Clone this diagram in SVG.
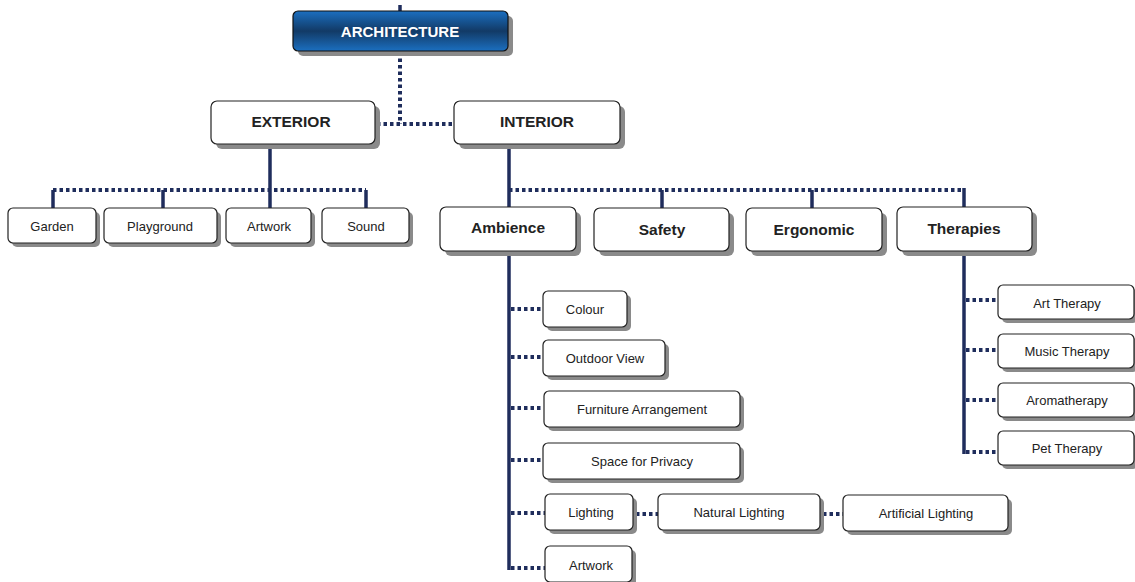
<svg xmlns="http://www.w3.org/2000/svg" width="1135" height="582" viewBox="0 0 1135 582">
<defs>
<linearGradient id="blue" x1="0" y1="0" x2="0" y2="1">
<stop offset="0" stop-color="#1b6fc0"/>
<stop offset="0.5" stop-color="#123a66"/>
<stop offset="1" stop-color="#1b6fc0"/>
</linearGradient>
</defs>
<style>
.sh{fill:#8a8a8a}
.bx{fill:#fff;stroke:#222;stroke-width:1.2}
.t{font-family:"Liberation Sans",Arial,sans-serif;font-size:13px;fill:#222;text-anchor:middle}
.tb{font-family:"Liberation Sans",Arial,sans-serif;font-size:15.5px;font-weight:bold;fill:#222;text-anchor:middle}
.s{stroke:#1f2d5c;stroke-width:3.5;fill:none}
.d{stroke:#1f2d5c;stroke-width:4;fill:none;stroke-dasharray:3.5 3}
</style>
<g id="connectors">
<line class="s" x1="400" y1="5" x2="400" y2="11"/>
<line class="d" x1="400" y1="52" x2="400" y2="124"/>
<line class="d" x1="377" y1="124" x2="453" y2="124"/>
<line class="s" x1="270" y1="145" x2="270" y2="208"/>
<line class="d" x1="53" y1="190" x2="366" y2="190"/>
<line class="s" x1="53" y1="190" x2="53" y2="208"/>
<line class="s" x1="163" y1="190" x2="163" y2="208"/>
<line class="s" x1="366" y1="190" x2="366" y2="208"/>
<line class="s" x1="509" y1="145" x2="509" y2="570"/>
<line class="d" x1="509" y1="190" x2="964" y2="190"/>
<line class="s" x1="662" y1="190" x2="662" y2="208"/>
<line class="s" x1="812" y1="190" x2="812" y2="208"/>
<line class="s" x1="964" y1="188" x2="964" y2="207"/>
<line class="s" x1="964" y1="252" x2="964" y2="454"/>
<line class="d" x1="966" y1="300" x2="998" y2="300"/>
<line class="d" x1="966" y1="350" x2="998" y2="350"/>
<line class="d" x1="966" y1="400" x2="998" y2="400"/>
<line class="d" x1="966" y1="452" x2="998" y2="452"/>
<line class="d" x1="511" y1="309" x2="543" y2="309"/>
<line class="d" x1="511" y1="357" x2="543" y2="357"/>
<line class="d" x1="511" y1="408" x2="543" y2="408"/>
<line class="d" x1="511" y1="460" x2="543" y2="460"/>
<line class="d" x1="511" y1="513" x2="545" y2="513"/>
<line class="d" x1="511" y1="568" x2="545" y2="568"/>
<line class="d" x1="636" y1="514" x2="658" y2="514"/>
<line class="d" x1="823" y1="514" x2="843" y2="514"/>
</g>
<g id="architecture">
<rect x="298" y="16" width="215" height="40" rx="5" class="sh"/>
<rect x="293" y="11" width="215" height="40" rx="5" fill="url(#blue)" stroke="#111" stroke-width="1.2"/>
<text x="400" y="37" class="tb" fill="#fff" style="fill:#fff;font-size:15px">ARCHITECTURE</text>
</g>
<g id="exterior">
<rect x="216" y="106" width="164" height="43" rx="6" class="sh"/>
<rect x="211" y="101" width="164" height="43" rx="6" class="bx"/>
<text x="291" y="127" class="tb">EXTERIOR</text>
</g>
<g id="interior">
<rect x="459" y="106" width="166" height="43" rx="6" class="sh"/>
<rect x="454" y="101" width="166" height="43" rx="6" class="bx"/>
<text x="537" y="127" class="tb">INTERIOR</text>
</g>
<g id="garden">
<rect x="12" y="212" width="88" height="35" rx="5" class="sh"/>
<rect x="8" y="208" width="88" height="35" rx="5" class="bx"/>
<text x="52" y="231" class="t">Garden</text>
</g>
<g id="playground">
<rect x="108" y="212" width="113" height="35" rx="5" class="sh"/>
<rect x="104" y="208" width="113" height="35" rx="5" class="bx"/>
<text x="160" y="231" class="t">Playground</text>
</g>
<g id="artwork-ext">
<rect x="230" y="212" width="85" height="35" rx="5" class="sh"/>
<rect x="226" y="208" width="85" height="35" rx="5" class="bx"/>
<text x="269" y="231" class="t">Artwork</text>
</g>
<g id="sound">
<rect x="326" y="212" width="87" height="35" rx="5" class="sh"/>
<rect x="322" y="208" width="87" height="35" rx="5" class="bx"/>
<text x="366" y="231" class="t">Sound</text>
</g>
<g id="ambience">
<rect x="445" y="212" width="136" height="44" rx="6" class="sh"/>
<rect x="440" y="207" width="136" height="44" rx="6" class="bx"/>
<text x="508" y="233" class="tb">Ambience</text>
</g>
<g id="safety">
<rect x="599" y="213" width="135" height="43" rx="6" class="sh"/>
<rect x="594" y="208" width="135" height="43" rx="6" class="bx"/>
<text x="662" y="235" class="tb">Safety</text>
</g>
<g id="ergonomic">
<rect x="751" y="213" width="136" height="43" rx="6" class="sh"/>
<rect x="746" y="208" width="136" height="43" rx="6" class="bx"/>
<text x="814" y="235" class="tb">Ergonomic</text>
</g>
<g id="therapies">
<rect x="902" y="212" width="135" height="44" rx="6" class="sh"/>
<rect x="897" y="207" width="135" height="44" rx="6" class="bx"/>
<text x="964" y="234" class="tb">Therapies</text>
</g>
<g id="art-therapy">
<rect x="1002" y="289" width="136" height="34" rx="5" class="sh"/>
<rect x="998" y="285" width="136" height="34" rx="5" class="bx"/>
<text x="1067" y="308" class="t">Art Therapy</text>
</g>
<g id="music-therapy">
<rect x="1002" y="338" width="136" height="34" rx="5" class="sh"/>
<rect x="998" y="334" width="136" height="34" rx="5" class="bx"/>
<text x="1067" y="356" class="t">Music Therapy</text>
</g>
<g id="aromatherapy">
<rect x="1002" y="387" width="136" height="34" rx="5" class="sh"/>
<rect x="998" y="383" width="136" height="34" rx="5" class="bx"/>
<text x="1067" y="405" class="t">Aromatherapy</text>
</g>
<g id="pet-therapy">
<rect x="1002" y="435" width="136" height="34" rx="5" class="sh"/>
<rect x="998" y="431" width="136" height="34" rx="5" class="bx"/>
<text x="1067" y="453" class="t">Pet Therapy</text>
</g>
<g id="colour">
<rect x="547" y="295" width="84" height="36" rx="5" class="sh"/>
<rect x="543" y="291" width="84" height="36" rx="5" class="bx"/>
<text x="585" y="314" class="t">Colour</text>
</g>
<g id="outdoor-view">
<rect x="547" y="344" width="122" height="36" rx="5" class="sh"/>
<rect x="543" y="340" width="122" height="36" rx="5" class="bx"/>
<text x="605" y="363" class="t">Outdoor View</text>
</g>
<g id="furniture">
<rect x="548" y="395" width="196" height="36" rx="5" class="sh"/>
<rect x="544" y="391" width="196" height="36" rx="5" class="bx"/>
<text x="642" y="414" class="t">Furniture Arrangement</text>
</g>
<g id="privacy">
<rect x="547" y="447" width="197" height="36" rx="5" class="sh"/>
<rect x="543" y="443" width="197" height="36" rx="5" class="bx"/>
<text x="642" y="466" class="t">Space for Privacy</text>
</g>
<g id="lighting">
<rect x="549" y="498" width="88" height="36" rx="5" class="sh"/>
<rect x="545" y="494" width="88" height="36" rx="5" class="bx"/>
<text x="591" y="517" class="t">Lighting</text>
</g>
<g id="natural-lighting">
<rect x="662" y="498" width="162" height="36" rx="5" class="sh"/>
<rect x="658" y="494" width="162" height="36" rx="5" class="bx"/>
<text x="739" y="517" class="t">Natural Lighting</text>
</g>
<g id="artificial-lighting">
<rect x="847" y="499" width="165" height="36" rx="5" class="sh"/>
<rect x="843" y="495" width="165" height="36" rx="5" class="bx"/>
<text x="926" y="518" class="t">Artificial Lighting</text>
</g>
<g id="artwork-int">
<rect x="549" y="550" width="87" height="36" rx="5" class="sh"/>
<rect x="545" y="546" width="87" height="36" rx="5" class="bx"/>
<text x="591" y="570" class="t">Artwork</text>
</g>
</svg>
